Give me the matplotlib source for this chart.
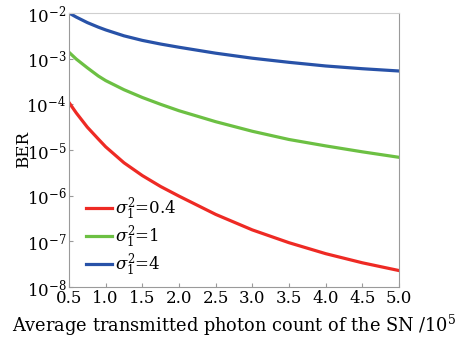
import numpy as np
import matplotlib
matplotlib.use('Agg')
import matplotlib.pyplot as plt
from matplotlib.ticker import LogLocator, LogFormatterMathtext, NullLocator

plt.rcParams['font.family'] = ['DejaVu Serif']
plt.rcParams['mathtext.fontset'] = 'dejavuserif'

# values (log10 BER)
x = [0.5, 0.6, 0.75, 0.9, 1.0, 1.25, 1.5, 1.75, 2.0, 2.5, 3.0, 3.5, 4.0, 4.5, 5.0]
log_s04 = [-3.96, -4.19, -4.50, -4.76, -4.93, -5.28, -5.56, -5.80, -6.01, -6.41,
           -6.75, -7.03, -7.27, -7.47, -7.64]
log_s1 = [-2.86, -3.01, -3.20, -3.38, -3.48, -3.68, -3.85, -4.00, -4.14, -4.38,
          -4.59, -4.77, -4.91, -5.04, -5.16]
log_s4 = [-2.00, -2.09, -2.21, -2.31, -2.37, -2.50, -2.60, -2.68, -2.75, -2.88,
          -2.99, -3.08, -3.16, -3.22, -3.27]
labels = [r'$\sigma_1^2$=0.4', r'$\sigma_1^2$=1', r'$\sigma_1^2$=4']
colors = ['#ee2a24', '#6cc043', '#2852a8']

fig = plt.figure(figsize=(4.68, 3.42), dpi=100)
ax = fig.add_axes([69/468, 1-287/342, 330/468, 274/342])

for ys, lab, c in zip([log_s04, log_s1, log_s4], labels, colors):
    ax.plot(x, 10**np.array(ys), color=c, lw=2.3, label=lab)

ax.set_yscale('log')
ax.set_xlim(0.5, 5.0)
ax.set_ylim(1e-8, 1e-2)
ax.set_xticks(np.arange(0.5, 5.01, 0.5))
ax.set_xticklabels(['%.1f' % v for v in np.arange(0.5, 5.01, 0.5)])
ax.yaxis.set_major_locator(LogLocator(base=10, numticks=10))
ax.yaxis.set_major_formatter(LogFormatterMathtext())
ax.yaxis.set_minor_locator(NullLocator())

for s in ['left', 'bottom', 'right']:
    ax.spines[s].set_color('#9a9a9a')
ax.spines['top'].set_color('#cfcfcf')
ax.tick_params(direction='in', length=3, width=0.8, color='#9a9a9a',
               labelsize=12, pad=2)

ax.set_xlabel(r'Average transmitted photon count of the SN /10$^5$', fontsize=12.8, labelpad=4)
ax.set_ylabel('BER', fontsize=12, labelpad=-4)

ax.legend(loc='lower left', frameon=False, fontsize=12, handlelength=1.6,
          handletextpad=0.15, labelspacing=0.05, borderaxespad=0.0,
          bbox_to_anchor=(0.03, 0.01))

fig.savefig('out.png', dpi=100)
